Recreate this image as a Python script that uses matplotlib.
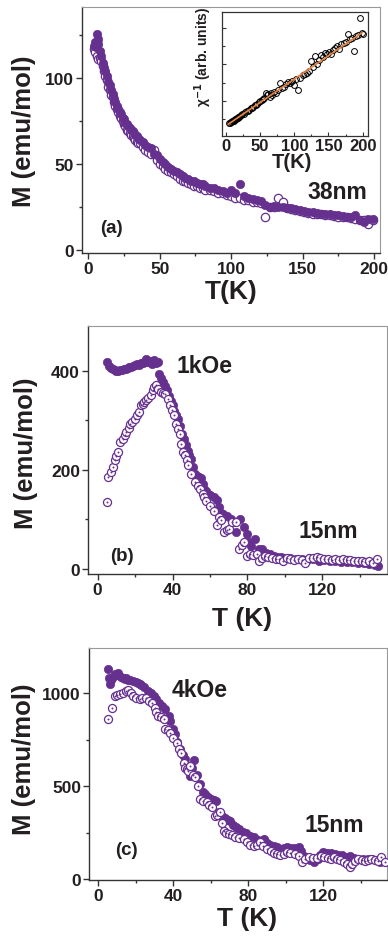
import matplotlib
matplotlib.use('Agg')
import matplotlib.pyplot as plt
from matplotlib.ticker import MultipleLocator, NullFormatter

plt.rcParams['font.family'] = ['Liberation Sans', 'DejaVu Sans']
plt.rcParams['font.weight'] = 'bold'
plt.rcParams['axes.labelweight'] = 'bold'
plt.rcParams['mathtext.default'] = 'bf'

PURPLE = '#66308f'
TXT = '#231f20'

# ---------------- panel (a): 38 nm ----------------
Ta_fill = [4, 5, 5.5, 6, 6.5, 7, 8, 9, 10, 11,
           12, 13, 14, 15, 16, 17, 18, 19, 20, 21,
           22, 23, 24, 25, 26, 27, 28, 29, 30, 31,
           32, 33, 34, 35, 36, 38, 40, 42, 44, 46,
           48, 50, 52, 54, 56, 58, 60, 62, 64, 66,
           68, 70, 72, 74, 76, 78, 80, 82, 85, 88,
           91, 94, 97, 100, 103, 106, 109, 112, 115, 118,
           121, 124, 127, 130, 133, 136, 139, 142, 145, 148,
           151, 154, 157, 160, 163, 166, 169, 172, 175, 178,
           181, 184, 187, 190, 193, 196, 199]
Ma_fill = [119, 121, 118, 126, 123, 120, 116, 113, 109, 106,
           104, 101, 98, 96, 93, 91, 88, 86, 84, 82,
           80, 79, 77, 76, 74, 73, 72, 71, 70, 69,
           68, 67, 66, 65, 64, 63, 61, 60, 59, 56,
           55, 53, 51, 50, 48, 47, 46, 45, 44, 43,
           42, 41, 40, 40, 39, 38, 38, 37, 36, 36,
           35, 34, 33, 35, 33, 38.5, 31, 30, 29.5, 29,
           28.5, 26, 25, 25.5, 25, 25, 24.5, 24, 23.5, 23,
           22.5, 22, 22, 21.5, 21, 21, 20.5, 20, 20, 19.5,
           19, 19, 20, 17, 16, 18, 18]
Ta_open = [4, 5, 6, 7, 8, 9, 10, 11, 12, 13,
           14, 15, 16, 17, 18, 19, 20, 21, 22, 23,
           24, 25, 26, 27, 28, 29, 30, 31, 32, 33,
           34, 35, 36, 38, 40, 42, 44, 46, 48, 50,
           52, 54, 56, 58, 60, 62, 64, 66, 68, 70,
           72, 74, 76, 78, 80, 82, 85, 88, 91, 94,
           97, 100, 103, 106, 109, 112, 115, 118, 121, 124,
           127, 130, 133, 136, 139, 142, 145, 148, 151, 154,
           157, 160, 163, 166, 169, 172, 175, 178, 181, 184,
           187, 190, 193, 196, 199]
Ma_open = [117, 115, 113, 111, 112, 110, 107, 104, 101, 99,
           95, 93, 90, 89, 86, 84, 82, 80, 78, 77,
           75, 73, 72, 70, 69, 68, 67, 66, 65, 64,
           63, 62, 62, 60, 58, 57, 56, 58, 52, 50,
           49, 47, 46, 45, 44, 43, 41, 40, 40, 39,
           38, 37, 37, 36, 36, 35, 35, 34, 33, 33,
           32, 31, 30, 30, 29, 29, 28, 27.5, 27, 19,
           25, 25, 30, 28, 24, 23.5, 23, 22.5, 22, 21.5,
           21, 21, 20.5, 20, 20, 19.5, 19, 19, 19, 18.5,
           18, 17.5, 17, 15, 17]

# inset: inverse susceptibility
Ti = [5, 6, 7, 8, 9, 10, 11, 12, 13, 14,
      15, 16, 17, 18, 19, 20, 22, 24, 26, 28,
      30, 32, 34, 36, 38, 40, 42, 44, 46, 48,
      50, 52, 54, 56, 58, 60, 62, 64, 66, 68,
      70, 73, 76, 79, 82, 85, 88, 91, 94, 97,
      100, 103, 106, 109, 112, 115, 118, 121, 124, 127,
      130, 133, 136, 139, 142, 145, 148, 151, 154, 157,
      160, 163, 166, 169, 172, 175, 178, 181, 184, 187,
      190, 193, 196, 199, 201]
Xi = [0.40, 0.41, 0.42, 0.44, 0.45, 0.46, 0.47, 0.49, 0.50, 0.51,
      0.52, 0.53, 0.55, 0.56, 0.57, 0.59, 0.61, 0.64, 0.66, 0.69,
      0.72, 0.74, 0.77, 0.80, 0.82, 0.85, 0.88, 0.90, 0.93, 0.97,
      1.00, 1.02, 1.06, 1.08, 1.22, 1.18, 1.20, 1.12, 1.22, 1.16,
      1.24, 1.21, 1.30, 1.50, 1.35, 1.38, 1.46, 1.52, 1.50, 1.55,
      1.45, 1.60, 1.30, 1.62, 1.70, 1.75, 1.78, 1.83, 2.10, 1.93,
      2.22, 2.00, 2.12, 2.25, 2.20, 2.30, 2.28, 2.35, 2.28, 2.40,
      2.45, 2.50, 2.42, 2.55, 2.60, 2.62, 2.82, 2.70, 2.72, 2.38,
      2.78, 2.80, 3.28, 2.85, 2.84]
Tfit = [3.4, 199.5]
Xfit = [0.37, 2.87]

# ---------------- panel (b): 15 nm, 1 kOe ----------------
Tb_fill = [5, 6, 7, 8, 9, 10, 11, 12, 13, 14,
           15, 16, 17, 18, 19, 20, 21, 22, 23, 24,
           25, 26, 27, 28, 29, 30, 31, 32, 33, 34,
           35, 36, 37, 38, 39, 40, 41, 42, 43, 44,
           45, 46, 47, 48, 49, 50, 51, 52, 53, 54,
           55, 56, 57, 58, 59, 60, 62, 64, 65, 66,
           67, 69, 71, 72.5, 74, 76, 78, 79.6, 81, 82,
           84, 86, 88, 90, 92, 94, 96, 98, 100, 103,
           106, 109, 112, 115, 118, 121, 124, 127, 130, 133,
           136, 139, 142, 145, 148, 150]
Mb_fill = [417, 410, 405, 403, 401, 400, 399, 402, 401, 404,
           403, 406, 408, 407, 410, 411, 413, 412, 415, 416,
           418, 424, 417, 420, 414, 421, 416, 418, 394, 386,
           378, 370, 360, 349, 338, 330, 318, 310, 303, 288,
           273, 263, 250, 238, 230, 222, 205, 192, 188, 186,
           184, 172, 162, 158, 152, 150, 146, 140, 125, 114,
           112, 108, 100, 95, 74, 100, 85, 70, 55, 47,
           60, 40, 40, 33, 30, 27, 25, 24, 22, 22,
           21, 20, 18, 20, 17, 18, 17, 16, 15, 15,
           14, 13, 12, 10, 8, 7]
Tb_open = [4.8, 5.7, 7, 8.3, 9, 10, 10.8, 12, 13.5, 14.5,
           15.4, 16.5, 17.5, 18.5, 20, 21, 22, 23, 24, 25,
           26, 27, 28.5, 29.5, 30, 31, 32.4, 34, 35, 36,
           37.5, 38.5, 39.5, 40.6, 42, 43, 43.8, 44.6, 45.6, 46.5,
           47.5, 48.5, 50, 52, 53.5, 54.8, 56, 57, 58, 60,
           62, 63.6, 65, 66, 67.5, 69, 70, 71.6, 74, 75.7,
           77, 78, 79.6, 81.4, 83, 85, 86.4, 88, 89.4, 91,
           93, 95, 97, 99, 101, 103, 105, 107, 109, 111,
           113, 115, 117, 119, 121, 123, 125, 127, 129, 131,
           133, 135, 137, 139, 141, 143, 145, 147, 149]
Mb_open = [136, 185, 195, 206, 220, 228, 236, 256, 263, 270,
           277, 285, 292, 296, 303, 310, 317, 330, 333, 336,
           340, 345, 350, 360, 367, 372, 364, 357, 355, 352,
           343, 330, 320, 310, 293, 283, 273, 253, 236, 230,
           219, 209, 192, 175, 168, 162, 152, 145, 138, 128,
           118, 88, 104, 98, 74, 78, 80, 94, 94, 40,
           48, 54, 27, 30, 28, 30, 17, 22, 27, 24,
           22, 21, 20, 16, 22, 20, 18, 21, 19, 12,
           22, 23, 24, 23, 21, 20, 19, 20, 19, 20,
           18, 19, 17, 16, 17, 14, 16, 13, 20]

# ---------------- panel (c): 15 nm, 4 kOe ----------------
Tc_fill = [5, 5.5, 6.4, 7, 8, 9, 10, 10.7, 12, 13,
           14, 15, 16, 17, 18.5, 20, 21, 22, 23, 24.5,
           26.5, 28, 29.5, 31, 32.5, 34, 35.7, 37.5, 38.5, 40,
           41, 42, 43.7, 45, 46.4, 47.5, 49, 50, 51, 52.5,
           54.4, 56, 57, 58.5, 60, 61.5, 63, 64.5, 66, 67.5,
           69, 70.4, 72, 73.5, 75, 77, 79, 81, 83, 85,
           86.5, 88.3, 90, 91.5, 93.5, 95.5, 97.5, 99, 100.6, 102.5,
           104.5, 106.9, 108, 109.5, 111, 113, 115, 117, 118.5, 120,
           122, 124, 126, 128, 130, 132, 134.4, 136.5, 138.5, 141,
           143.6, 146, 148, 150]
Mc_fill = [1133, 1085, 1050, 1070, 1090, 1102, 1100, 1110, 1090, 1085,
           1075, 1080, 1072, 1070, 1067, 1060, 1055, 1050, 1045, 1035,
           1013, 1000, 985, 968, 950, 930, 914, 878, 850, 806,
           780, 740, 699, 670, 645, 600, 555, 600, 640, 560,
           511, 470, 457, 440, 430, 425, 421, 360, 340, 330,
           320, 313, 290, 280, 269, 255, 245, 233, 225, 210,
           205, 215, 195, 185, 179, 170, 160, 165, 170, 165,
           168, 170, 150, 125, 110, 100, 90, 110, 130, 143,
           140, 138, 135, 130, 128, 120, 125, 115, 110, 108,
           107, 105, 100, 90]
Tc_open = [5, 7.5, 9, 10, 11.5, 13, 14.5, 16, 17.5, 18.5,
           20, 22, 23.5, 25.5, 27, 28.5, 30, 31, 32, 33.5,
           35, 35.8, 37, 38.4, 40, 41.8, 43, 44, 45.5, 46.3,
           47.2, 48, 49, 50.5, 51.7, 53, 54.4, 56, 57.9, 59,
           60.5, 62.4, 63.5, 65, 66, 66.9, 68.2, 69.6, 71.5, 73,
           75, 77.5, 79.3, 81, 82.9, 84.5, 86.4, 88, 90, 92,
           93.5, 95.5, 97, 99, 100.6, 102.5, 105, 107, 108.9, 110.5,
           112.5, 114.5, 116.5, 118.6, 120.5, 122.5, 124, 125.8, 127.5, 129,
           131, 132.5, 134, 135.5, 137, 138.5, 140.5, 142, 143.6, 145.6,
           147.5, 149, 151, 152.7]
Mc_open = [860, 923, 985, 990, 995, 1000, 1015, 1020, 1000, 985,
           975, 968, 975, 977, 960, 950, 920, 900, 878, 870,
           860, 806, 800, 789, 760, 735, 700, 681, 627, 600,
           591, 580, 610, 560, 547, 500, 430, 420, 412, 400,
           390, 340, 345, 358, 300, 260, 250, 240, 235, 224,
           220, 215, 197, 185, 179, 185, 197, 180, 162, 150,
           140, 134, 130, 135, 143, 140, 134, 125, 90, 110,
           116, 112, 115, 125, 120, 115, 110, 116, 110, 100,
           90, 80, 63, 80, 95, 107, 100, 95, 100, 107,
           100, 95, 116, 90]

fig = plt.figure(figsize=(3.88, 9.37), dpi=100)


def style(ax, xmaj, xmin, ymaj, ymin):
    for s in ['left', 'bottom']:
        ax.spines[s].set_color('#333333')
        ax.spines[s].set_linewidth(1.0)
    for s in ['top', 'right']:
        ax.spines[s].set_color('#999999')
        ax.spines[s].set_linewidth(0.8)
    ax.xaxis.set_major_locator(MultipleLocator(xmaj))
    ax.xaxis.set_minor_locator(MultipleLocator(xmin))
    ax.yaxis.set_major_locator(MultipleLocator(ymaj))
    ax.yaxis.set_minor_locator(MultipleLocator(ymin))
    ax.tick_params(which='both', direction='out', top=False, right=False,
                   color='#333333', width=1.0, labelcolor=TXT)
    ax.tick_params(which='major', length=4.5, labelsize=12.5, pad=1.5)
    ax.tick_params(which='minor', length=2.5)


def open_dot(ax, T, M, ms=5.8):
    ax.plot(T, M, 'o', ms=ms, mfc='white', mec=PURPLE, mew=0.9, ls='none', zorder=3)
    ax.plot(T, M, 'o', ms=1.4, mfc=PURPLE, mec=PURPLE, mew=0, ls='none', zorder=4)


YL = 18.5
XL = 19

# ----- (a)
axa = fig.add_axes([0.2113, 0.7289, 0.768, 0.2625])
axa.plot(Ta_open, Ma_open, 'o', ms=6, mfc='white', mec=PURPLE, mew=0.9, ls='none', zorder=2)
axa.plot(Ta_fill, Ma_fill, 'o', ms=6, mfc=PURPLE, mec=PURPLE, mew=0.5, ls='none', zorder=3)
axa.set_xlim(-4.4, 204.2)
axa.set_ylim(-2, 141.5)
style(axa, 50, 25, 50, 25)
axa.set_ylabel('M (emu/mol)', fontsize=YL, fontweight='bold', color=TXT)
axa.yaxis.set_label_coords(-0.155, 0.5)
axa.set_xlabel('T(K)', fontsize=XL, fontweight='bold', color=TXT)
axa.xaxis.set_label_coords(0.5, -0.105)
axa.text(174, 34, '38nm', fontsize=16.5, ha='center', va='center', color=TXT)
axa.text(16, 13, '(a)', fontsize=13.5, ha='center', va='center', color=TXT)

# inset
axi = fig.add_axes([0.573, 0.8541, 0.3763, 0.1323])
axi.plot(Tfit, Xfit, '-', color='#e8823c', lw=1.2, zorder=3)
axi.plot(Ti, Xi, 'o', ms=4.2, mfc='none', mec='black', mew=0.7, ls='none', zorder=2)
axi.set_xlim(-5.4, 208.3)
axi.set_ylim(0.055, 3.44)
for s in axi.spines.values():
    s.set_color('#333333')
    s.set_linewidth(0.9)
axi.xaxis.set_major_locator(MultipleLocator(50))
axi.xaxis.set_minor_locator(MultipleLocator(25))
axi.yaxis.set_major_locator(MultipleLocator(1))
axi.yaxis.set_minor_locator(MultipleLocator(0.5))
axi.yaxis.set_major_formatter(NullFormatter())
axi.tick_params(which='both', direction='in', top=False, right=False, color='#333333',
                width=0.8, labelcolor=TXT)
axi.tick_params(which='major', length=3, labelsize=12, pad=2)
axi.tick_params(which='minor', length=1.8)
axi.set_xlabel('T(K)', fontsize=14.5, fontweight='bold', color=TXT)
axi.xaxis.set_label_coords(0.477, -0.135)
axi.set_ylabel('χ$^{-1}$ (arb. units)', fontsize=10, fontweight='bold', color=TXT)
axi.yaxis.set_label_coords(-0.06, 0.64)

# ----- (b)
axb = fig.add_axes([0.2276, 0.3863, 0.7691, 0.2647])
axb.plot(Tb_fill, Mb_fill, 'o', ms=6, mfc=PURPLE, mec=PURPLE, mew=0.5, ls='none', zorder=2)
open_dot(axb, Tb_open, Mb_open)
axb.set_xlim(-5.0, 154.4)
axb.set_ylim(-10, 490)
style(axb, 40, 20, 200, 100)
axb.set_ylabel('M (emu/mol)', fontsize=YL, fontweight='bold', color=TXT)
axb.yaxis.set_label_coords(-0.17, 0.49)
axb.set_xlabel('T (K)', fontsize=XL, fontweight='bold', color=TXT)
axb.xaxis.set_label_coords(0.515, -0.13)
axb.text(57, 410, '1kOe', fontsize=16.5, ha='center', va='center', color=TXT)
axb.text(123, 77, '15nm', fontsize=16.5, ha='center', va='center', color=TXT)
axb.text(12.8, 27, '(b)', fontsize=13.5, ha='center', va='center', color=TXT)

# ----- (c)
axc = fig.add_axes([0.2302, 0.0601, 0.7673, 0.2476])
axc.plot(Tc_fill, Mc_fill, 'o', ms=6, mfc=PURPLE, mec=PURPLE, mew=0.5, ls='none', zorder=2)
open_dot(axc, Tc_open, Mc_open)
axc.set_xlim(-4.8, 154)
axc.set_ylim(-4, 1246)
style(axc, 40, 20, 500, 250)
axc.set_ylabel('M (emu/mol)', fontsize=YL, fontweight='bold', color=TXT)
axc.yaxis.set_label_coords(-0.178, 0.525)
axc.set_xlabel('T (K)', fontsize=XL, fontweight='bold', color=TXT)
axc.xaxis.set_label_coords(0.53, -0.115)
axc.text(54, 1021, '4kOe', fontsize=16.5, ha='center', va='center', color=TXT)
axc.text(126, 296, '15nm', fontsize=16.5, ha='center', va='center', color=TXT)
axc.text(14.8, 161, '(c)', fontsize=13.5, ha='center', va='center', color=TXT)

fig.savefig('out.png', dpi=100)
